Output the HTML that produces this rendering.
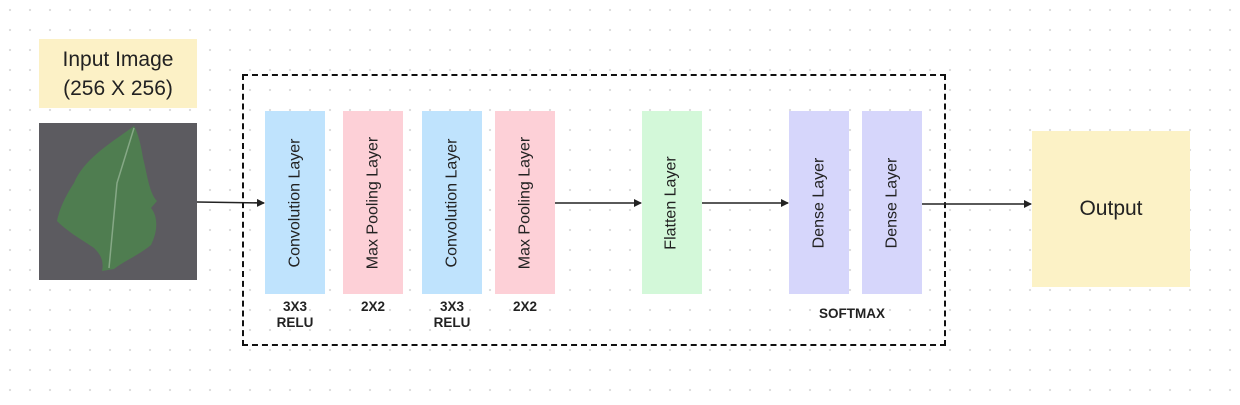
<!DOCTYPE html><html><head><style>
body{margin:0;width:1240px;height:405px;position:relative;overflow:hidden;font-family:"Liberation Sans",sans-serif;
background:#fff radial-gradient(circle,#dcdcdc 1px,transparent 1.3px) 0 0/20px 20px;}
.b{position:absolute;}
.l{position:absolute;display:flex;align-items:center;justify-content:center;}
.l span{transform:rotate(-90deg);white-space:nowrap;font-size:16px;color:#222;}
.t{position:absolute;font-size:13.5px;font-weight:bold;color:#222;text-align:center;line-height:16px;width:80px;}
</style></head><body>
<div class="b" style="left:39px;top:39px;width:158px;height:69px;background:#fcf1c6;display:flex;align-items:center;justify-content:center;text-align:center;font-size:21px;line-height:29px;color:#222">Input Image<br>(256 X 256)</div>
<svg class="b" style="left:39px;top:123px" width="158" height="157"><rect width="158" height="157" fill="#5c5b60"/>
<path d="M95 3 C75 18 45 35 35 60 C25 75 20 88 18 98 C30 110 45 118 55 125 C62 132 65 138 63 148 L75 146 C85 138 100 132 112 122 C118 110 120 95 112 85 L118 78 C110 70 108 50 104 35 C102 22 99 10 95 3Z" fill="#4f7d50"/>
<path d="M95 5 L78 60 L70 145" stroke="#86a886" stroke-width="1.5" fill="none"/></svg>
<div class="b" style="left:242px;top:74px;width:700px;height:268px;border:2px dashed #111"></div>
<div class="l" style="left:265px;top:111px;width:60px;height:183px;background:#bfe3fd"><span>Convolution Layer</span></div>
<div class="l" style="left:343px;top:111px;width:60px;height:183px;background:#fdd0d7"><span>Max Pooling Layer</span></div>
<div class="l" style="left:422px;top:111px;width:60px;height:183px;background:#bfe3fd"><span>Convolution Layer</span></div>
<div class="l" style="left:495px;top:111px;width:60px;height:183px;background:#fdd0d7"><span>Max Pooling Layer</span></div>
<div class="l" style="left:642px;top:111px;width:60px;height:183px;background:#d3f8d9"><span>Flatten Layer</span></div>
<div class="l" style="left:789px;top:111px;width:60px;height:183px;background:#d6d6fb"><span>Dense Layer</span></div>
<div class="l" style="left:862px;top:111px;width:60px;height:183px;background:#d6d6fb"><span>Dense Layer</span></div>
<div class="l" style="left:1032px;top:131px;width:158px;height:156px;background:#fcf2c6;font-size:21px;color:#222">Output</div>
<div class="t" style="left:255px;top:299px">3X3<br>RELU</div>
<div class="t" style="left:333px;top:299px">2X2</div>
<div class="t" style="left:412px;top:299px">3X3<br>RELU</div>
<div class="t" style="left:485px;top:299px">2X2</div>
<div class="t" style="left:812px;top:306px;width:80px">SOFTMAX</div>
<svg class="b" style="left:0;top:0" width="1240" height="405">
<defs><marker id="a" markerWidth="8" markerHeight="8" refX="7" refY="4" orient="auto" markerUnits="userSpaceOnUse"><path d="M0 0L8 4L0 8Z" fill="#222"/></marker></defs>
<g stroke="#222" stroke-width="1.6" marker-end="url(#a)">
<line x1="197" y1="202" x2="264" y2="203"/><line x1="555" y1="203" x2="641" y2="203"/>
<line x1="702" y1="203" x2="788" y2="203"/><line x1="922" y1="204" x2="1031" y2="204"/></g></svg>
</body></html>
